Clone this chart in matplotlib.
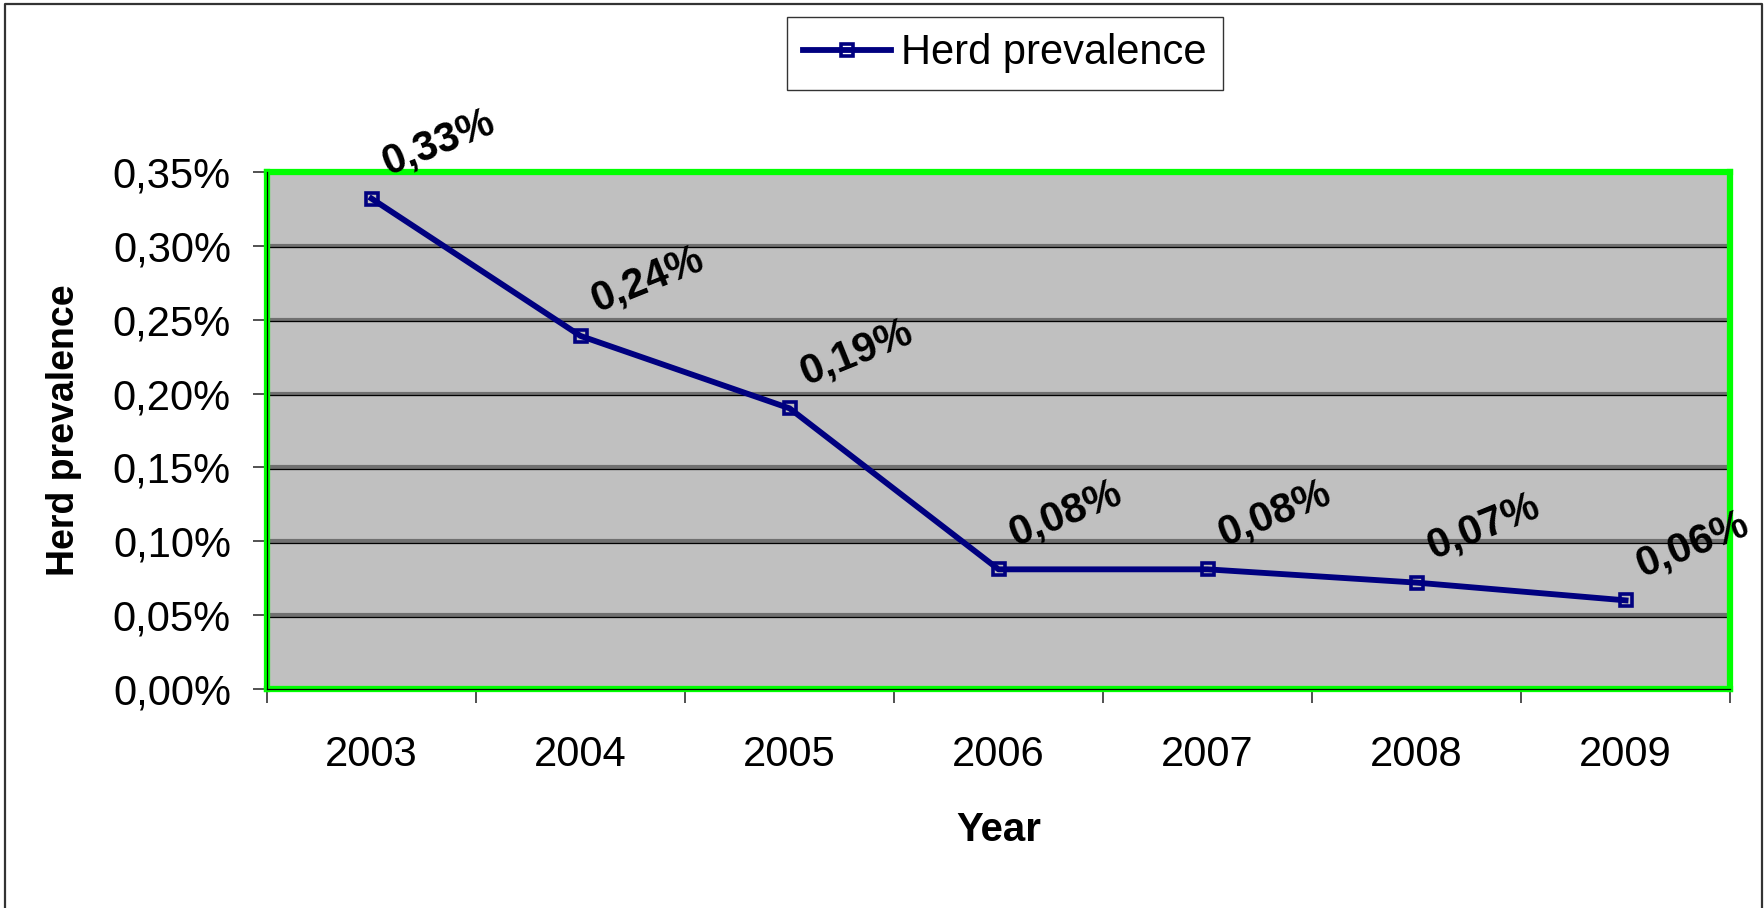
import matplotlib
matplotlib.use("Agg")
import matplotlib.pyplot as plt
import matplotlib.transforms as mtransforms
from matplotlib.lines import Line2D

plt.rcParams['font.family'] = ['Liberation Sans', 'DejaVu Sans']

years = ["2003", "2004", "2005", "2006", "2007", "2008", "2009"]
prevalence = [0.332, 0.239, 0.190, 0.081, 0.081, 0.072, 0.060]
y_ticks = [0.00, 0.05, 0.10, 0.15, 0.20, 0.25, 0.30, 0.35]
series_name = "Herd prevalence"

fig = plt.figure(figsize=(17.65, 9.08), dpi=100)
ax = fig.add_axes([0.1513, 0.2412, 0.8289, 0.5694])
ax.set_facecolor("#C0C0C0")

x = list(range(len(years)))

# gridlines: gray band with a thin black line under it
shift = mtransforms.ScaledTranslation(0, -1.5 / 100, fig.dpi_scale_trans)
for v in y_ticks[1:-1]:
    ax.axhline(v, color="#707070", lw=3.0, zorder=1)
    ax.plot([0, 1], [v, v], color="black", lw=0.9, zorder=1,
            transform=ax.get_yaxis_transform() + shift)

ax.plot(x, prevalence, color="#000080", lw=4.2, marker="s", markersize=9,
        markerfacecolor="none", markeredgecolor="#000080", markeredgewidth=2.6,
        label=series_name, zorder=3)

for xi, v in zip(x, prevalence):
    ax.annotate(f"{v:.2f}%".replace(".", ","), (xi, v), xytext=(12, 17),
                textcoords="offset points", rotation=22, rotation_mode="anchor",
                ha="left", va="baseline", fontsize=30, fontweight="bold", zorder=4,
                annotation_clip=False)

ax.set_xlim(-0.5, len(years) - 0.5)
ax.set_ylim(0, 0.35)
ax.set_yticks(y_ticks)
ax.set_yticklabels([f"{v:.2f}%".replace(".", ",") for v in y_ticks], fontsize=30)

ax.set_xticks([i - 0.5 for i in range(len(years) + 1)])
ax.set_xticklabels([])
ax.set_xticks(x, minor=True)
ax.set_xticklabels(years, minor=True, fontsize=30)
ax.tick_params(axis="x", which="major", direction="out", length=10, width=1.2, color="#333333")
ax.tick_params(axis="x", which="minor", length=0, pad=33)
ax.tick_params(axis="y", direction="out", length=10, width=1.2, color="#333333", pad=16)

for s in ax.spines.values():
    s.set_color("#00FF00")
    s.set_linewidth(4.5)
ax.plot([0, 0], [0, 1], transform=ax.transAxes, color="black", lw=0.9, clip_on=False, zorder=5)
ax.plot([0, 1], [0, 0], transform=ax.transAxes, color="black", lw=0.9, clip_on=False, zorder=5)

ax.set_xlabel("Year", fontsize=29, fontweight="bold", labelpad=26)
ax.set_ylabel("Herd prevalence", fontsize=27, fontweight="bold", labelpad=22)

leg = fig.legend(loc="center", bbox_to_anchor=(0.5694, 0.9411), fontsize=30,
                 fancybox=False, edgecolor="#333333", framealpha=1,
                 handlelength=2.1, handletextpad=0.25, borderpad=0.4)
leg.get_frame().set_linewidth(1.0)

# outer chart border (left, top, right)
fig.add_artist(Line2D([0.003, 0.003, 0.9983, 0.9983], [0.0, 0.9956, 0.9956, 0.0],
                      transform=fig.transFigure, color="#333333", lw=1.6))

fig.savefig("out.png", dpi=100)
plt.close("all")
